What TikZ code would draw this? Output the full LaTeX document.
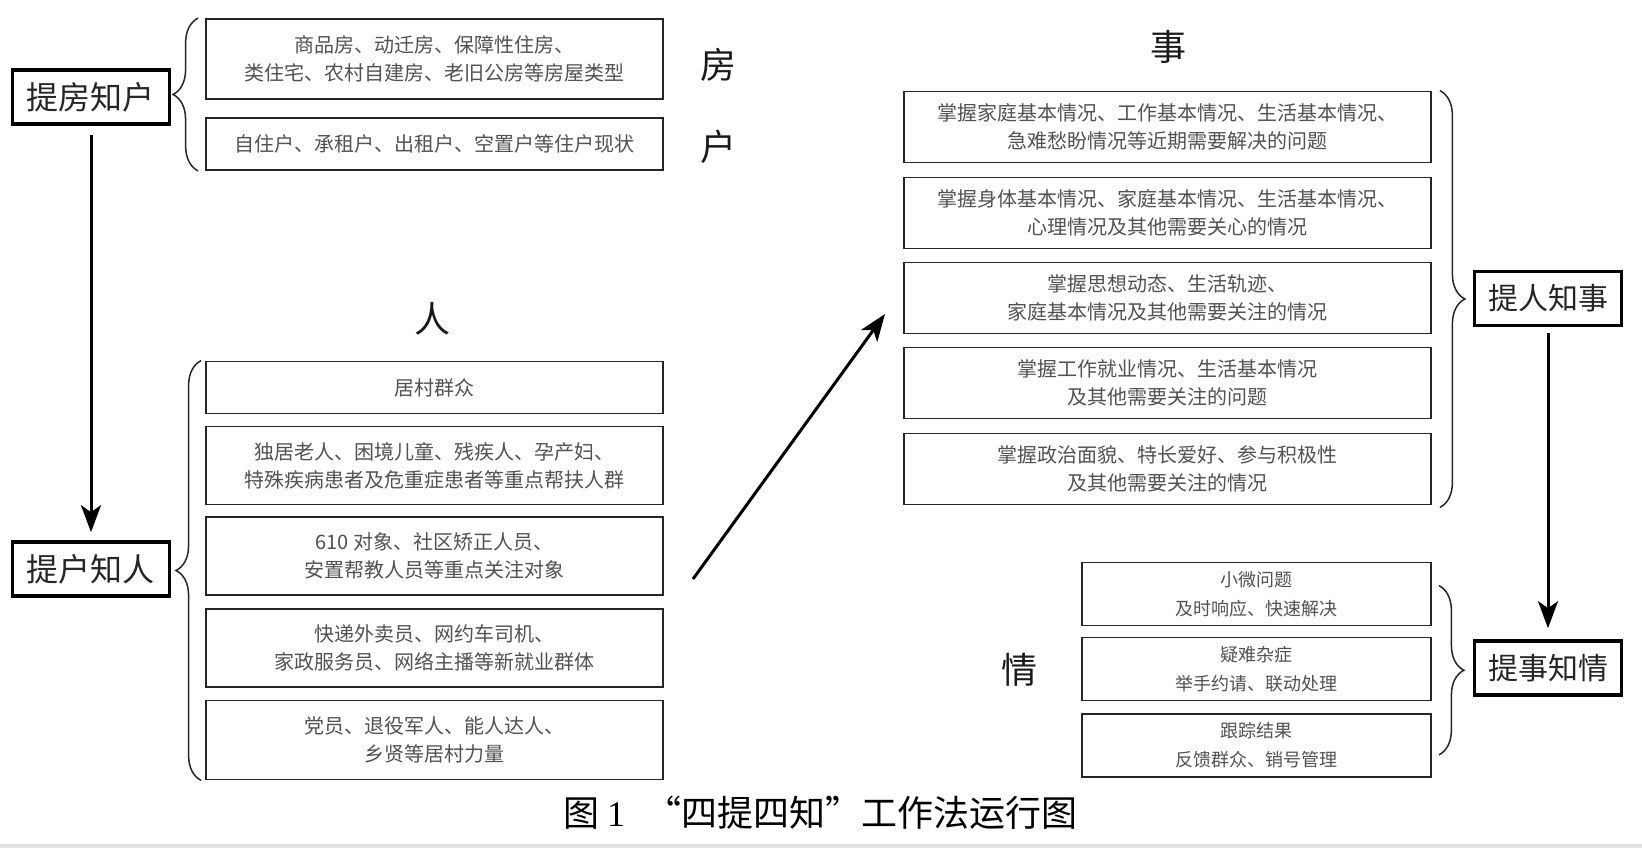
\documentclass[tikz,border=0pt]{standalone}
\usepackage{fontspec}
\setmainfont{Noto Sans CJK SC}
\newfontfamily\capnum{Liberation Serif}
\usetikzlibrary{arrows.meta,decorations.pathreplacing,calc}
\tikzset{
  cbox/.style={draw=black!85, line width=1.8pt, align=center, text=black!68, inner sep=0pt,
    font=\fontsize{20}{28}\selectfont},
  abox/.style={cbox, minimum width=457pt},
  sbox/.style={cbox, minimum width=527pt, minimum height=71pt},
  qbox/.style={cbox, minimum width=349pt, minimum height=63pt, font=\fontsize{18}{29}\selectfont},
  lblbox/.style={draw=black, line width=3.6pt, minimum height=54pt, inner sep=0pt, text=black!85},
  biglbl/.style={font=\fontsize{36}{36}\selectfont, text=black!90, inner sep=0pt},
  arr/.style={line width=3pt, -{Stealth[length=27pt,width=20pt,inset=7pt]}},
  brc/.style={line width=1.5pt, draw=black!85, decorate},
}
\begin{document}
\begin{tikzpicture}[x=1pt,y=-1pt]
\useasboundingbox (0,0) rectangle (1642,848);
\fill[white] (0,0) rectangle (1642,848);
\fill[black!12] (0,843.5) rectangle (1642,848);

% house / household
\node[lblbox, minimum width=157pt, font=\fontsize{32}{32}\selectfont] (fk) at (91,97) {提房知户};
\node[abox, minimum height=80pt] (a1) at (434.5,59) {商品房、动迁房、保障性住房、\\类住宅、农村自建房、老旧公房等房屋类型};
\node[abox, minimum height=52pt] (a2) at (434.5,144) {自住户、承租户、出租户、空置户等住户现状};
\node[biglbl] (lf) at (718,65) {房};
\node[biglbl] (lh) at (718,147) {户};

% people
\node[biglbl] (lr) at (432,319) {人};
\node[lblbox, minimum width=157pt, font=\fontsize{32}{32}\selectfont] (hr) at (91,569) {提户知人};
\node[abox, minimum height=52pt] (p1) at (434.5,387.5) {居村群众};
\node[abox, minimum height=78pt] (p2) at (434.5,465.5) {独居老人、困境儿童、残疾人、孕产妇、\\特殊疾病患者及危重症患者等重点帮扶人群};
\node[abox, minimum height=78pt] (p3) at (434.5,556) {610 对象、社区矫正人员、\\安置帮教人员等重点关注对象};
\node[abox, minimum height=78pt] (p4) at (434.5,648) {快递外卖员、网约车司机、\\家政服务员、网络主播等新就业群体};
\node[abox, minimum height=79pt] (p5) at (434.5,740) {党员、退役军人、能人达人、\\乡贤等居村力量};

% matters
\node[biglbl] (ls) at (1168,47) {事};
\node[sbox] (s1) at (1167.5,127) {掌握家庭基本情况、工作基本情况、生活基本情况、\\急难愁盼情况等近期需要解决的问题};
\node[sbox] (s2) at (1167.5,213) {掌握身体基本情况、家庭基本情况、生活基本情况、\\心理情况及其他需要关心的情况};
\node[sbox] (s3) at (1167.5,298) {掌握思想动态、生活轨迹、\\家庭基本情况及其他需要关注的情况};
\node[sbox] (s4) at (1167.5,383) {掌握工作就业情况、生活基本情况\\及其他需要关注的问题};
\node[sbox] (s5) at (1167.5,469) {掌握政治面貌、特长爱好、参与积极性\\及其他需要关注的情况};
\node[lblbox, minimum width=147pt, font=\fontsize{30}{30}\selectfont] (rs) at (1548,298.5) {提人知事};

% situation
\node[biglbl] (lq) at (1019,670) {情};
\node[qbox] (q1) at (1256.5,594) {小微问题\\及时响应、快速解决};
\node[qbox] (q2) at (1256.5,669) {疑难杂症\\举手约请、联动处理};
\node[qbox] (q3) at (1256.5,745.5) {跟踪结果\\反馈群众、销号管理};
\node[lblbox, minimum width=147pt, font=\fontsize{30}{30}\selectfont] (sq) at (1548,668) {提事知情};

% caption
\node[font=\fontsize{36}{36}\selectfont, inner sep=0pt] (cap) at (820,813)
  {图\hspace{8pt}{\capnum 1}\hspace{20pt}\makebox[1em][r]{“}四提四知\makebox[1em][l]{”}工作法运行图};

% braces
\draw[brc, decoration={brace,amplitude=25pt}] ($(a2.south west)+(-7,0)$) -- ($(a1.north west)+(-7,0)$);
\draw[brc, decoration={brace,amplitude=25pt}] ($(p5.south west)+(-4,0)$) -- ($(p1.north west)+(-4,0)$);
\draw[brc, decoration={brace,amplitude=25pt}] ($(s1.north east)+(8,0)$) -- ($(s5.south east)+(8,2)$);
\draw[brc, decoration={brace,amplitude=25pt}] ($(q1.north east)+(7,24)$) -- ($(q3.south east)+(7,-23)$);

% arrows
\coordinate (d1) at (693,579);
\coordinate (d2) at (885,314);
\draw[arr, shorten <=9pt, shorten >=8pt] (fk) -- (hr);
\draw[arr] (d1) -- (d2);
\draw[arr, shorten <=6pt, shorten >=11pt] (rs) -- (sq);
\end{tikzpicture}
\end{document}
